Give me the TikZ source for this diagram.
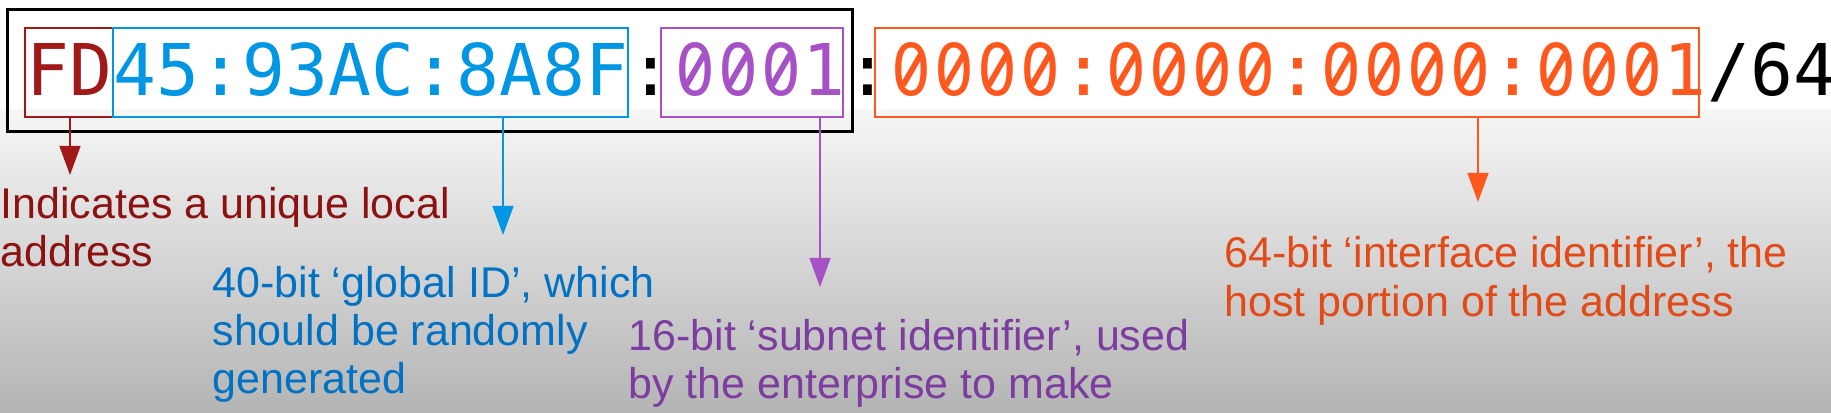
\documentclass[tikz,border=0pt]{standalone}
\usepackage{graphicx}
\usepackage{fontspec}
\setmainfont{Liberation Sans}
\newfontfamily\addrfont{DejaVu Sans Mono}
\newfontfamily\zerofont{DejaVu Sans}
\usetikzlibrary{arrows.meta,fit}

% slashed zero, one mono cell wide
\newcommand\slz{\ooalign{\hfil\scalebox{0.88}[1]{\zerofont 0}\hfil\cr
	\hfil\raisebox{0.13em}{\rotatebox{60}{\rule{0.5em}{0.08em}}}\hfil\cr
	\phantom{0}}}

\definecolor{fdred}{RGB}{160,24,24}
\definecolor{gidblue}{RGB}{0,150,228}
\definecolor{subpurple}{RGB}{166,82,198}
\definecolor{iidorange}{RGB}{255,88,30}
\definecolor{notered}{RGB}{140,18,18}
\definecolor{noteblue}{RGB}{0,114,196}
\definecolor{notepurple}{RGB}{124,60,160}
\definecolor{noteorange}{RGB}{226,74,24}

\tikzset{every picture/.style={line width=0.75pt}}
\tikzset{
	addr/.style={inner sep=0pt, anchor=base west, font=\addrfont\fontsize{53.5}{60}\selectfont},
	field/.style={draw=#1, line width=1.9pt, inner sep=0pt},
	note/.style={anchor=base west, align=left, inner sep=0pt, font=\fontsize{32.25}{36}\selectfont},
	ptr/.style={draw=#1, line width=1pt, -{Triangle[width=15.75pt,length=21.75pt]}}}

\begin{document}
\begin{tikzpicture}[x=0.75pt,y=0.75pt,yscale=-1,xscale=1]
	\useasboundingbox (0,0) rectangle (1831,413);

	%Background
	\fill[white] (0,0) rectangle (1831,110);
	\shade[top color={rgb,255:red,246;green,246;blue,246}, bottom color={rgb,255:red,180;green,180;blue,180}] (0,110) rectangle (1831,413);

	% Address text
	\node[addr, fdred] (fd) at (26,96) {FD};
	\node[addr, gidblue] (gid) at (fd.base east) {45:93AC:8A8F};
	\node[addr] (c1) at (gid.base east) {:};
	\node[addr, subpurple] (sub) at (c1.base east) {\slz\slz\slz1};
	\node[addr] (c2) at (sub.base east) {:};
	\node[addr, iidorange] (iid) at (c2.base east) {\slz\slz\slz\slz:\slz\slz\slz\slz:\slz\slz\slz\slz:\slz\slz\slz1};
	\node[addr] (pfx) at (iid.base east) {/64};

	% Field boxes
	\node[field=fdred, fit={(25,28) (113,117)}] (fdbox) {};
	\node[field=gidblue, fit={(113,28) (628,117)}] (gidbox) {};
	\node[field=subpurple, fit={(661,28) (843,117)}] (subbox) {};
	\node[field=iidorange, fit={(875,28) (1699,117)}] (iidbox) {};
	\node[draw, line width=2.25pt, inner sep=0pt, fit={(7,9.5) (852,132)}] (prefix) {};

	% Arrow ends
	\coordinate (fdtip) at (70,175);
	\coordinate (gidtip) at (503,235);
	\coordinate (subtip) at (820,287);
	\coordinate (iidtip) at (1478,202);

	\draw[ptr=fdred] (fdbox.south -| fdtip) -- (fdtip);
	\draw[ptr=gidblue] (gidbox.south -| gidtip) -- (gidtip);
	\draw[ptr=subpurple] (subbox.south -| subtip) -- (subtip);
	\draw[ptr=iidorange] (iidbox.south -| iidtip) -- (iidtip);

	% Notes (anchored on the last line)
	\node[note, notered] (fdnote) at (0,267) {Indicates a unique local\\address};
	\node[note, noteblue] (gidnote) at (212,393) {40-bit ‘global ID’, which\\should be randomly\\generated};
	\node[note, notepurple] (subnote) at (628,398) {16-bit ‘subnet identifier’, used\\by the enterprise to make};
	\node[note, noteorange] (iidnote) at (1224,316) {64-bit ‘interface identifier’, the\\host portion of the address};

\end{tikzpicture}
\end{document}
